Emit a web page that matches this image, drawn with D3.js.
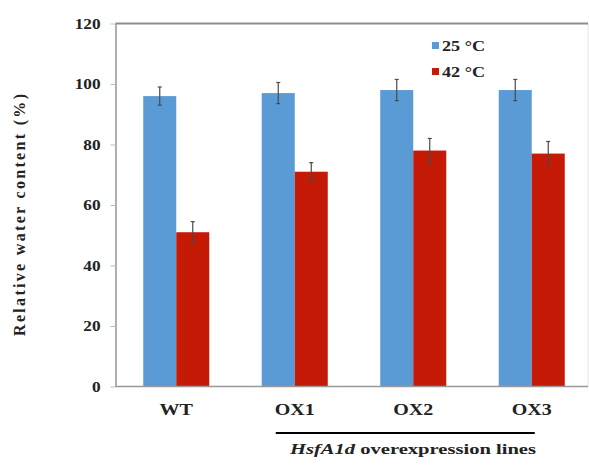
<!DOCTYPE html>
<html><head><meta charset="utf-8">
<script src="https://cdn.jsdelivr.net/npm/d3@7"></script>
<style>body{margin:0;background:#fff;} svg{display:block;}</style>
</head><body>
<svg id="c" width="589" height="467"></svg>
<script>
const categories = ["WT", "OX1", "OX2", "OX3"];
const seriesNames = ["25 °C", "42 °C"];
const values25 = [96, 97, 98, 98];
const values42 = [51, 71, 78, 77];
const err25 = [3, 3.5, 3.5, 3.5];
const err42 = [3.5, 3, 4, 4];
const yTicks = [0, 20, 40, 60, 80, 100, 120];
const colors = ["#5b9bd5", "#c41a06"];

const svg = d3.select("#c");
const L = 115.5, R = 588, T = 23.5, B = 386.5;
const y = d3.scaleLinear().domain([0, 120]).range([B, T]);
const x = d3.scaleBand().domain(categories).range([117, 591]).paddingInner(0.443).paddingOuter(0.2215);
const xs = d3.scaleBand().domain([0, 1]).range([0, x.bandwidth()]);

// frame
svg.append("rect").attr("x", L).attr("y", T).attr("width", R - L).attr("height", B - T)
  .attr("fill", "none").attr("stroke", "#e6e6e6").attr("stroke-width", 1);
svg.append("line").attr("x1", L).attr("x2", R).attr("y1", T).attr("y2", T).attr("stroke", "#8c8c8c").attr("stroke-width", 2);

const data = categories.map((c, i) => ({c, vals: [values25[i], values42[i]], errs: [err25[i], err42[i]]}));
const g = svg.append("g");
data.forEach(d => {
  d.vals.forEach((v, k) => {
    const bx = x(d.c) + xs(k);
    g.append("rect").attr("x", bx).attr("y", y(v)).attr("width", xs.bandwidth()).attr("height", y(0) - y(v)).attr("fill", colors[k]);
  });
});
data.forEach(d => {
  d.vals.forEach((v, k) => {
    const cx = x(d.c) + xs(k) + xs.bandwidth() / 2;
    const e = d.errs[k];
    g.append("line").attr("x1", cx).attr("x2", cx).attr("y1", y(v + e)).attr("y2", y(v - e)).attr("stroke", "#4a4a4a").attr("stroke-width", 1.2);
    g.append("line").attr("x1", cx - 2).attr("x2", cx + 2).attr("y1", y(v + e)).attr("y2", y(v + e)).attr("stroke", "#4a4a4a").attr("stroke-width", 1.2);
    g.append("line").attr("x1", cx - 2).attr("x2", cx + 2).attr("y1", y(v - e)).attr("y2", y(v - e)).attr("stroke", "#4a4a4a").attr("stroke-width", 1.2);
  });
});

// y axis
const ya = svg.append("g").attr("transform", `translate(${L},0)`)
  .call(d3.axisLeft(y).tickValues(yTicks).tickSize(5).tickPadding(15).tickSizeOuter(0));
ya.select(".domain").attr("stroke", "#999").attr("stroke-width", 1.5);
ya.selectAll(".tick line").attr("stroke", "#bbb");
ya.selectAll("text").attr("font-family", "Liberation Serif").attr("font-weight", "bold").attr("font-size", 15).attr("fill", "#222")
  .attr("transform", "scale(1.15,1)").attr("x", -15 / 1.15);

// x axis
const xa = svg.append("g").attr("transform", `translate(0,${B})`)
  .call(d3.axisBottom(x).tickSize(0).tickPadding(17).tickSizeOuter(0));
xa.select(".domain").attr("d", `M${L},0H${R}`).attr("stroke", "#999").attr("stroke-width", 1.5);
xa.selectAll("text").attr("font-family", "Liberation Serif").attr("font-weight", "bold").attr("font-size", 16).attr("fill", "#222")
  .attr("transform", "scale(1.25,1)");

// y label
svg.append("text").attr("transform", "translate(25,215) rotate(-90)").attr("text-anchor", "middle")
  .attr("font-family", "Liberation Serif").attr("font-weight", "bold").attr("font-size", 16).attr("fill", "#222")
  .attr("textLength", 242).attr("lengthAdjust", "spacing")
  .text("Relative water content (%)");

// group line and label
svg.append("line").attr("x1", x("OX1") + 14).attr("x2", x("OX3") + 36).attr("y1", 433).attr("y2", 433).attr("stroke", "#000").attr("stroke-width", 2);
const lab = svg.append("text").attr("x", 413).attr("y", 454).attr("text-anchor", "middle")
  .attr("font-family", "Liberation Serif").attr("font-weight", "bold").attr("font-size", 15).attr("fill", "#222")
  .attr("textLength", 246).attr("lengthAdjust", "spacingAndGlyphs");
lab.append("tspan").attr("font-style", "italic").text("HsfA1d");
lab.append("tspan").text(" overexpression lines");

// legend
const lg = svg.append("g");
seriesNames.forEach((s, k) => {
  const ly = 46 + k * 26;
  lg.append("rect").attr("x", 432).attr("y", ly - 4).attr("width", 7).attr("height", 7).attr("fill", colors[k]);
  lg.append("text").attr("x", 442).attr("y", ly + 5).attr("font-family", "Liberation Serif").attr("font-weight", "bold")
    .attr("font-size", 15).attr("fill", "#222").attr("textLength", 43).attr("lengthAdjust", "spacingAndGlyphs").text(s);
});
</script>
</body></html>
